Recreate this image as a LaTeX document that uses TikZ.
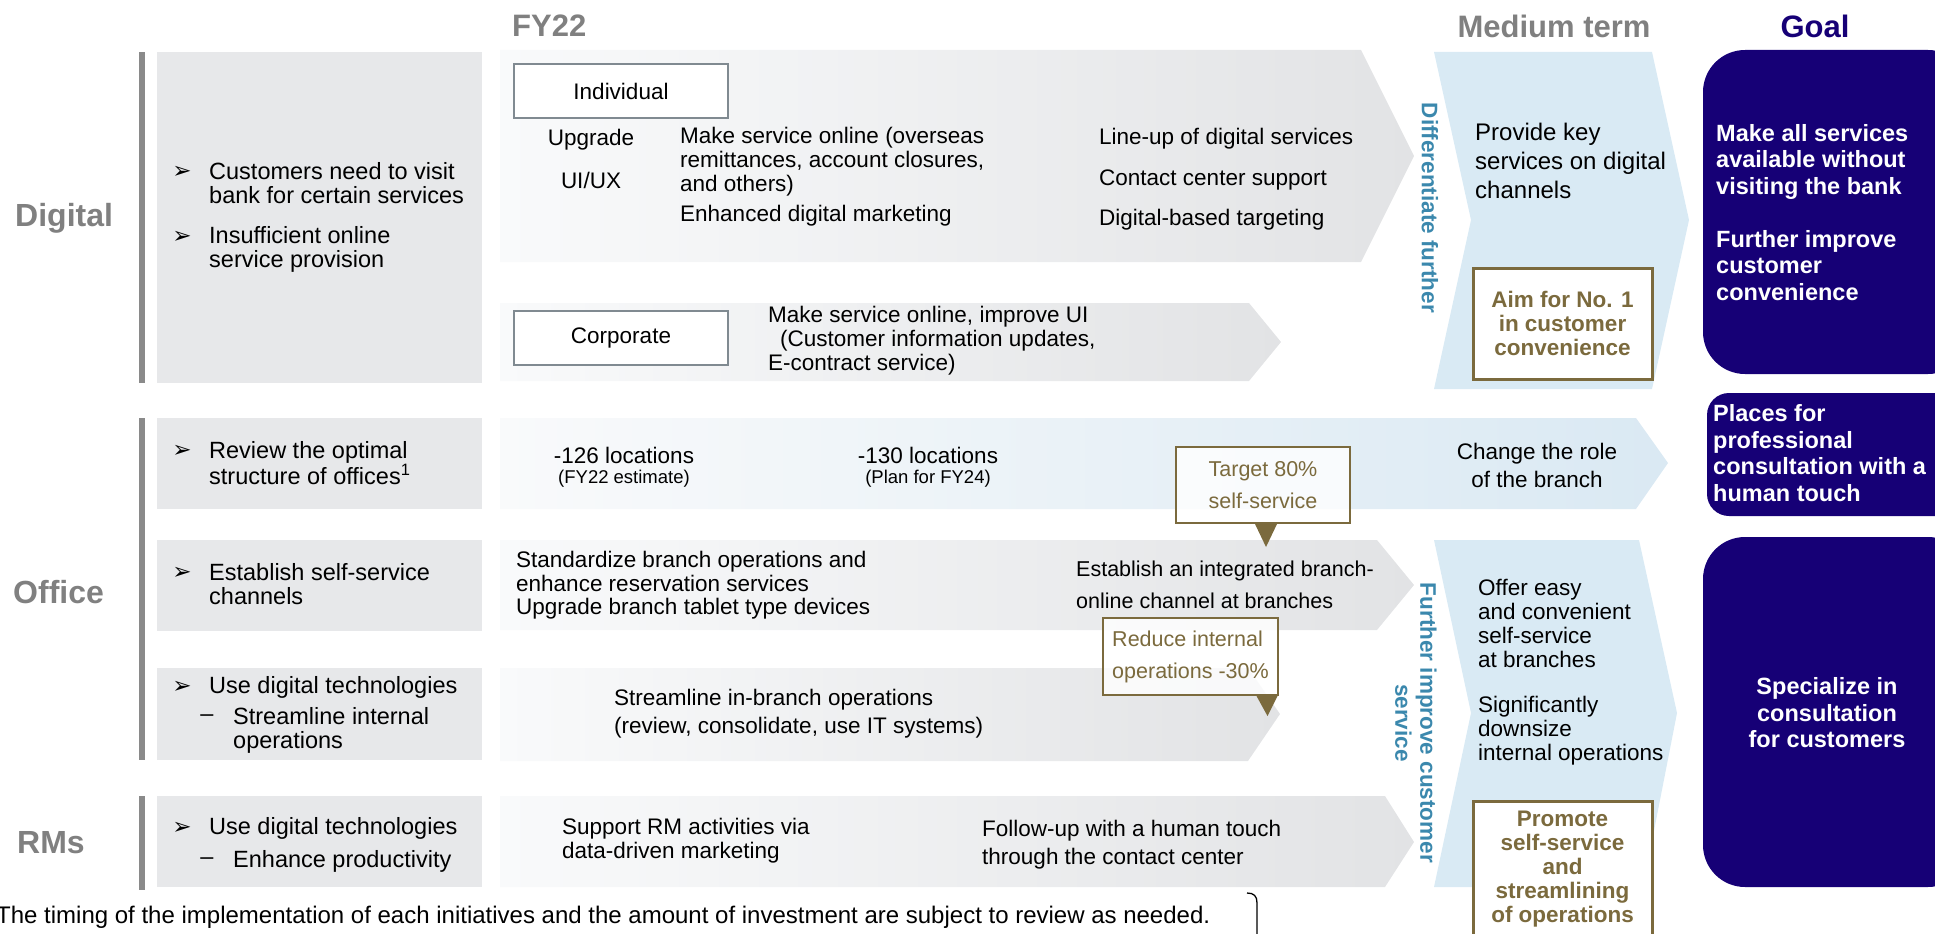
\documentclass[tikz,border=0pt]{standalone}
\usepackage{fontspec}
\setmainfont{Liberation Sans}
\newfontfamily\dejavu{DejaVu Sans}
\definecolor{PanelGray}{RGB}{231,232,234}
\definecolor{BarGray}{RGB}{138,138,138}
\definecolor{LabelGray}{RGB}{128,128,128}
\definecolor{BandLight}{RGB}{249,250,251}
\definecolor{BandGray}{RGB}{226,227,229}
\definecolor{BandBlue}{RGB}{218,233,243}
\definecolor{MidBlue}{RGB}{217,234,244}
\definecolor{TextBlue}{RGB}{59,136,173}
\definecolor{Olive}{RGB}{123,106,61}
\definecolor{Navy}{RGB}{22,0,118}
\definecolor{BoxLine}{RGB}{128,138,145}

\begin{document}
\begin{tikzpicture}[x=1pt,y=1pt,yscale=-1,xscale=1,
		panel/.style={fill=PanelGray},
		greyband/.style={left color=BandLight,right color=BandGray},
		blueband/.style={left color=BandLight,right color=BandBlue},
		heading/.style={inner sep=0pt,font=\bfseries\fontsize{31}{34}\selectfont},
		rowlabel/.style={anchor=west,inner sep=0pt,text=LabelGray,font=\bfseries\fontsize{32}{34}\selectfont},
		arrowbullet/.style={inner sep=0pt,font=\dejavu\fontsize{23}{24}\selectfont},
		issue/.style={anchor=west,align=left,inner sep=0pt,font=\fontsize{23.5}{24}\selectfont},
		plain/.style={anchor=west,align=left,inner sep=0pt,font=\fontsize{22.5}{24}\selectfont},
		segbox/.style={draw=BoxLine,line width=2.5pt,fill=white,minimum width=214pt,minimum height=54pt,inner sep=0pt,font=\fontsize{22.5}{24}\selectfont},
		callout/.style={draw=Olive,line width=2pt,fill=white,fill opacity=0.8,text opacity=1,text=Olive,inner sep=0pt,font=\fontsize{21.5}{32}\selectfont},
		aimtext/.style={align=center,inner sep=0pt,text=Olive,font=\bfseries\fontsize{22.5}{24}\selectfont},
		vlabel/.style={rotate=-90,align=center,inner sep=0pt,text=TextBlue,font=\bfseries\fontsize{22.5}{25}\selectfont},
		goaltext/.style={inner sep=0pt,text=white,font=\bfseries\fontsize{23.5}{26.5}\selectfont}]
		\useasboundingbox (0,0) rectangle (1935,934);

		% Column headings
		\node[heading,anchor=west,text=LabelGray] (fy) at (512,26) {FY22};
		\node[heading,text=LabelGray] (medium) at (1554,26) {Medium term};
		\node[heading,text=Navy] (goal) at (1815,26) {Goal};

		% Row labels and the grey bars beside them
		\node[rowlabel] (digital) at (15,218) {Digital};
		\node[rowlabel] (office) at (13,592) {Office};
		\node[rowlabel] (rms) at (17,843) {RMs};
		\fill[BarGray] (139,52) rectangle (145,383);
		\fill[BarGray] (139,418) rectangle (145,760);
		\fill[BarGray] (139,796) rectangle (145,890);

		% Grey panels with the current issues
		\fill[panel] (157,52) rectangle (482,383);
		\fill[panel] (157,418) rectangle (482,509);
		\fill[panel] (157,540) rectangle (482,631);
		\fill[panel] (157,668) rectangle (482,760);
		\fill[panel] (157,796) rectangle (482,887);

		% Issues (bullets and text)
		\node[arrowbullet] (b1) at (182,172) {➢};
		\node[issue] (visit) at (209,183.5) {Customers need to visit\\bank for certain services};
		\node[arrowbullet] (b2) at (182,237) {➢};
		\node[issue] (insufficient) at (209,249) {Insufficient online\\service provision};
		\node[arrowbullet] (b3) at (182,451) {➢};
		\node[issue] (review) at (209,463) {Review the optimal\\structure of offices\textsuperscript{1}};
		\node[arrowbullet] (b4) at (182,573) {➢};
		\node[issue] (selfservice) at (209,584.5) {Establish self-service\\channels};
		\node[arrowbullet] (b5) at (182,687) {➢};
		\node[issue] (usedigital) at (209,687) {Use digital technologies};
		\node[issue,anchor=center] (d1) at (207,718) {–};
		\node[issue] (internal) at (233,730.5) {Streamline internal\\operations};
		\node[arrowbullet] (b6) at (182,828) {➢};
		\node[issue] (usedigitalrm) at (209,828) {Use digital technologies};
		\node[issue,anchor=center] (d2) at (207,861) {–};
		\node[issue] (productivity) at (233,861) {Enhance productivity};

		% FY22 arrow bands
		\shade[greyband] (500,50) -- (1361,50) -- (1414,156) -- (1361,262) -- (500,262) -- cycle;
		\shade[greyband] (500,303) -- (1249,303) -- (1281,342) -- (1249,381) -- (500,381) -- cycle;
		\shade[blueband] (500,418) -- (1636,418) -- (1668,463) -- (1636,509) -- (500,509) -- cycle;
		\shade[greyband] (500,540) -- (1377,540) -- (1414,585) -- (1377,630) -- (500,630) -- cycle;
		\shade[greyband] (500,668) -- (1248,668) -- (1280,714) -- (1248,761) -- (500,761) -- cycle;
		\shade[greyband] (500,796) -- (1385,796) -- (1414,842) -- (1385,887) -- (500,887) -- cycle;

		% Digital: individual
		\node[segbox] (individual) at (621,91) {Individual};
		\node[plain,anchor=center] (upgrade) at (591,140) {Upgrade};
		\node[plain,anchor=center] (uiux) at (591,180) {UI/UX};
		\node[plain] (makeonline) at (680,162) {Make service online (overseas\\remittances, account closures,\\and others)};
		\node[plain] (marketing) at (680,216) {Enhanced digital marketing};
		\node[plain] (lineup) at (1099,139) {Line-up of digital services};
		\node[plain] (contact) at (1099,180) {Contact center support};
		\node[plain] (targeting) at (1099,220) {Digital-based targeting};

		% Digital: corporate
		\node[segbox] (corporate) at (621,338) {Corporate};
		\node[plain] (corponline) at (768,340.5) {Make service online, improve UI\\\hspace*{12pt}(Customer information updates,\\E-contract service)};

		% Office: locations
		\node[plain,anchor=center] (loc126) at (624,455) {-126 locations};
		\node[plain,anchor=center,font=\fontsize{18.5}{20}\selectfont] (est22) at (624,479) {(FY22 estimate)};
		\node[plain,anchor=center] (loc130) at (928,455) {-130 locations};
		\node[plain,anchor=center,font=\fontsize{18.5}{20}\selectfont] (plan24) at (928,479) {(Plan for FY24)};
		\node[plain,anchor=center,align=center,font=\fontsize{22.5}{28}\selectfont] (changerole) at (1537,465) {Change the role\\of the branch};

		% Office: self-service and streamlining
		\node[plain,font=\fontsize{22.5}{23.5}\selectfont] (standardize) at (516,585.5) {Standardize branch operations and\\enhance reservation services\\Upgrade branch tablet type devices};
		\node[plain,font=\fontsize{21.5}{32}\selectfont] (integrated) at (1076,585) {Establish an integrated branch-\\online channel at branches};
		\node[plain,font=\fontsize{22.5}{28}\selectfont] (inbranch) at (614,714) {Streamline in-branch operations\\(review, consolidate, use IT systems)};

		% RMs
		\node[plain] (support) at (562,841) {Support RM activities via\\data-driven marketing};
		\node[plain,font=\fontsize{22.5}{28}\selectfont] (followup) at (982,845) {Follow-up with a human touch\\through the contact center};

		% Callouts with their pointers
		\node[callout,align=center,minimum width=174pt,minimum height=76pt] (target) at (1263,485) {Target 80\%\\self-service};
		\fill[Olive] ([xshift=-8pt]target.south) -- ++(22,0) -- ++(-11,23) -- cycle;
		\node[callout,align=left,minimum width=175pt,minimum height=77pt] (reduce) at (1190.5,656.5) {Reduce internal\\operations -30\%};
		\fill[Olive] ([xshift=66pt]reduce.south) -- ++(21,0) -- ++(-10,20) -- cycle;

		% Medium term chevrons
		\fill[MidBlue] (1434,52) -- (1652,52) -- (1689,220) -- (1652,389) -- (1434,389) -- (1471,220) -- cycle;
		\fill[MidBlue] (1434,540) -- (1639,540) -- (1677,713) -- (1643,887) -- (1434,887) -- (1471,713) -- cycle;
		\node[vlabel] (differentiate) at (1430,208) {Differentiate further};
		\node[vlabel] (improve) at (1416,723) {Further improve customer\\service};
		\node[plain,font=\fontsize{24}{29}\selectfont] (keyservices) at (1475,161) {Provide key\\services on digital\\channels};
		\node[plain] (offer) at (1478,623) {Offer easy\\and convenient\\self-service\\at branches};
		\node[plain] (downsize) at (1478,731) {Significantly\\downsize\\internal operations};

		% Medium term targets
		\node[aimtext,draw=Olive,line width=3pt,fill=white,minimum width=179pt,minimum height=111pt] (aim) at (1562.5,323.5) {Aim for No. 1\\in customer\\convenience};
		\draw[Olive,line width=3pt,fill=white] (1473,801) rectangle (1652,950);
		\node[aimtext] (promote) at (1562.5,869.5) {Promote\\self-service\\and\\streamlining\\of operations};

		% Goal boxes
		\fill[Navy,rounded corners=42pt] (1703,50) rectangle (1970,374);
		\node[goaltext,anchor=west,align=left] (goalone) at (1716,212.5) {Make all services\\available without\\visiting the bank\\[26.5pt]Further improve\\customer\\convenience};
		\fill[Navy,rounded corners=22pt] (1707,393) rectangle (1970,516);
		\node[goaltext,anchor=west,align=left] (goaltwo) at (1713,453) {Places for\\professional\\consultation with a\\human touch};
		\fill[Navy,rounded corners=42pt] (1703,537) rectangle (1970,887);
		\node[goaltext,align=center] (goalthree) at (1827,713) {Specialize in\\consultation\\for customers};

		% Footnote and bracket
		\node[plain,font=\fontsize{24}{26}\selectfont] (footnote) at (-4,917) {The timing of the implementation of each initiatives and the amount of investment are subject to review as needed.};
		\coordinate (hook) at (1247,893);
		\draw[line width=1.3pt] (hook) .. controls (1254,893) and (1257,896) .. (1257,903) -- (1257,940);
	\end{tikzpicture}
\end{document}
